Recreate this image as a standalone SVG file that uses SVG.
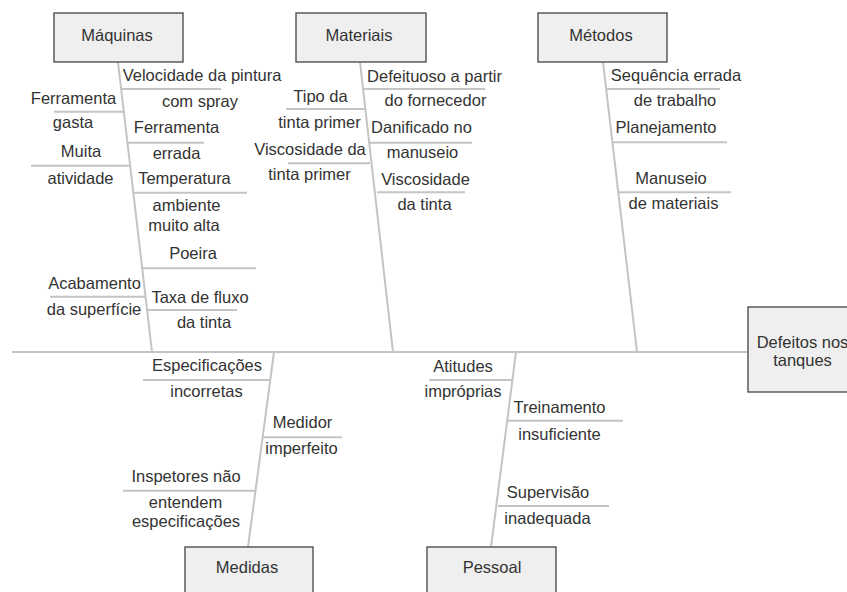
<svg xmlns="http://www.w3.org/2000/svg" width="847" height="592" viewBox="0 0 847 592">
<style>
.box{fill:#efefef;stroke:#505050;stroke-width:1.4}
.ln{stroke:#c4c4c4;stroke-width:2;fill:none}
text{font-family:"Liberation Sans",Arial,sans-serif;font-size:16.5px;fill:#333;text-anchor:middle}
</style>
<rect width="847" height="592" fill="#fff"/>
<g id="connectors" class="ln">
<line x1="12" y1="352" x2="748" y2="352"/>
<line x1="118" y1="62" x2="152" y2="352"/>
<line x1="360" y1="62" x2="393" y2="352"/>
<line x1="603" y1="62" x2="637" y2="352"/>
<line x1="274" y1="352" x2="248" y2="547"/>
<line x1="516" y1="352" x2="491" y2="547"/>
<line x1="121" y1="89" x2="221" y2="89"/>
<line x1="54" y1="111.7" x2="124" y2="111.7"/>
<line x1="128" y1="142.7" x2="204" y2="142.7"/>
<line x1="31" y1="165.7" x2="129" y2="165.7"/>
<line x1="133" y1="192.7" x2="247" y2="192.7"/>
<line x1="143" y1="268.3" x2="256" y2="268.3"/>
<line x1="50" y1="296.7" x2="145" y2="296.7"/>
<line x1="147" y1="310" x2="237" y2="310"/>
<line x1="363" y1="89" x2="485" y2="89"/>
<line x1="286" y1="109" x2="365" y2="109"/>
<line x1="369" y1="142.7" x2="472" y2="142.7"/>
<line x1="288" y1="163.3" x2="370" y2="163.3"/>
<line x1="377" y1="192.3" x2="465" y2="192.3"/>
<line x1="607" y1="89" x2="720" y2="89"/>
<line x1="613" y1="142.3" x2="727" y2="142.3"/>
<line x1="618" y1="192.3" x2="731" y2="192.3"/>
<line x1="143" y1="380" x2="269" y2="380"/>
<line x1="263" y1="437.3" x2="342" y2="437.3"/>
<line x1="123" y1="490.7" x2="255" y2="490.7"/>
<line x1="429" y1="380" x2="512" y2="380"/>
<line x1="508" y1="420.7" x2="623" y2="420.7"/>
<line x1="498" y1="506" x2="609" y2="506"/>
</g>
<g id="maquinas"><rect class="box" x="54" y="13" width="129" height="49"/><text x="117" y="41">Máquinas</text></g>
<g id="materiais"><rect class="box" x="296" y="13" width="130" height="49"/><text x="359" y="41">Materiais</text></g>
<g id="metodos"><rect class="box" x="538" y="13" width="129" height="49"/><text x="601" y="41">Métodos</text></g>
<g id="medidas"><rect class="box" x="185" y="547" width="128" height="60"/><text x="247" y="573">Medidas</text></g>
<g id="pessoal"><rect class="box" x="427" y="547" width="129" height="60"/><text x="492" y="573">Pessoal</text></g>
<g id="efeito"><rect class="box" x="748" y="307" width="110" height="85"/><text x="802.5" y="348">Defeitos nos</text><text x="802.5" y="366">tanques</text></g>
<g id="causas-maquinas">
<text x="202" y="81">Velocidade da pintura</text>
<text x="200" y="107">com spray</text>
<text x="73.5" y="104">Ferramenta</text>
<text x="73" y="128">gasta</text>
<text x="176.5" y="133">Ferramenta</text>
<text x="81" y="157">Muita</text>
<text x="176.5" y="159">errada</text>
<text x="80.5" y="184">atividade</text>
<text x="184.5" y="184">Temperatura</text>
<text x="186.5" y="210.5">ambiente</text>
<text x="184" y="230.5">muito alta</text>
<text x="193" y="259">Poeira</text>
<text x="94.5" y="289">Acabamento</text>
<text x="200" y="302.5">Taxa de fluxo</text>
<text x="94" y="315">da superfície</text>
<text x="204" y="328">da tinta</text>
</g>
<g id="causas-materiais">
<text x="434.5" y="81.5">Defeituoso a partir</text>
<text x="320.5" y="101.5">Tipo da</text>
<text x="435.5" y="106">do fornecedor</text>
<text x="319.5" y="127.5">tinta primer</text>
<text x="421.5" y="133">Danificado no</text>
<text x="310" y="155">Viscosidade da</text>
<text x="422.5" y="158">manuseio</text>
<text x="309.5" y="180">tinta primer</text>
<text x="425.5" y="184.5">Viscosidade</text>
<text x="424.5" y="210">da tinta</text>
</g>
<g id="causas-metodos">
<text x="676" y="81">Sequência errada</text>
<text x="675" y="106">de trabalho</text>
<text x="666" y="132.5">Planejamento</text>
<text x="671" y="184">Manuseio</text>
<text x="673.5" y="209">de materiais</text>
</g>
<g id="causas-medidas">
<text x="207" y="371">Especificações</text>
<text x="206.5" y="397">incorretas</text>
<text x="302.5" y="428">Medidor</text>
<text x="301.5" y="454">imperfeito</text>
<text x="186" y="481.5">Inspetores não</text>
<text x="185.5" y="508">entendem</text>
<text x="186" y="526.5">especificações</text>
</g>
<g id="causas-pessoal">
<text x="463" y="371.5">Atitudes</text>
<text x="463" y="396.5">impróprias</text>
<text x="559.5" y="413">Treinamento</text>
<text x="559.5" y="440">insuficiente</text>
<text x="548" y="498">Supervisão</text>
<text x="547.5" y="524">inadequada</text>
</g>
</svg>
